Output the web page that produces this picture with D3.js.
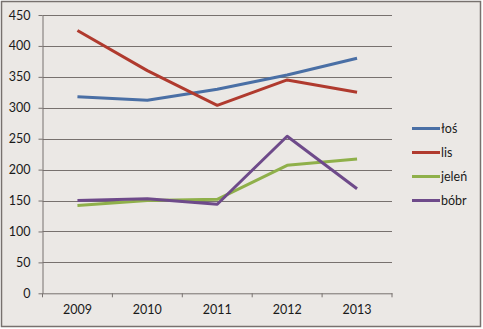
<!DOCTYPE html>
<html><head><meta charset="utf-8">
<script src="https://cdn.jsdelivr.net/npm/d3@7"></script>
<style>body{margin:0;background:#fff}svg{display:block}</style>
</head><body>
<svg id="c" width="483" height="329"></svg>
<script>
const years = ["2009","2010","2011","2012","2013"];
const seriesNames = ["łoś","lis","jeleń","bóbr"];
const seriesColors = ["#4a6fa5","#b03a2e","#8fb04a","#6e4a8a"];
const losValues = [318, 312, 330, 353, 380];
const lisValues = [425, 360, 304, 345, 325];
const jelenValues = [142, 150, 152, 207, 217];
const bobrValues = [150, 153, 144, 254, 169];
const yTicks = [0,50,100,150,200,250,300,350,400,450];

const allValues = [losValues, lisValues, jelenValues, bobrValues];
const svg = d3.select("#c");
const font = "Lato, 'Open Sans', sans-serif";

svg.append("rect").attr("x",0).attr("y",0).attr("width",483).attr("height",329).attr("fill","#fff");
svg.append("rect").attr("x",1.5).attr("y",1.5).attr("width",479).attr("height",325)
  .attr("fill","#ebe8e5").attr("stroke","#77716e").attr("stroke-width",1.5);

const L=42.5, R=392, T=15, B=293.3;
const x = d3.scaleBand().domain(years).range([L,R]);
const y = d3.scaleLinear().domain([0,450]).range([B,T]);

// gridlines
svg.append("g").selectAll("line").data(yTicks.filter(d=>d>0)).join("line")
  .attr("x1",L).attr("x2",R).attr("y1",d=>Math.round(y(d))+0.5).attr("y2",d=>Math.round(y(d))+0.5)
  .attr("stroke","#77716e").attr("stroke-width",1);

// y axis
const ya = svg.append("g").attr("transform",`translate(${L},0)`)
  .call(d3.axisLeft(y).tickValues(yTicks).tickSize(4).tickSizeOuter(0).tickPadding(8));
ya.select(".domain").attr("stroke","#77716e");
ya.selectAll(".tick line").attr("stroke","#77716e");
ya.selectAll("text").attr("font-family",font).attr("font-size",12.5).attr("fill","#1a1a1a");

// x axis
const xa = svg.append("g").attr("transform",`translate(0,${B})`)
  .call(d3.axisBottom(x).tickSize(0).tickPadding(12));
xa.select(".domain").attr("stroke","#77716e");
xa.selectAll("text").attr("font-family",font).attr("font-size",12.5).attr("fill","#1a1a1a");
// category separators ticks
const bounds = years.map(d=>x(d)).concat([R]);
xa.selectAll(".sep").data(bounds).join("line").attr("class","sep")
  .attr("x1",d=>d).attr("x2",d=>d).attr("y1",0).attr("y2",4).attr("stroke","#77716e");

const line = d3.line().x((d,i)=>x(years[i])+x.bandwidth()/2).y(d=>y(d));
svg.append("g").selectAll("path").data(allValues).join("path")
  .attr("d",d=>line(d)).attr("fill","none")
  .attr("stroke",(d,i)=>seriesColors[i]).attr("stroke-width",3).attr("stroke-linejoin","round");

// legend
const lg = svg.append("g").selectAll("g").data(seriesNames).join("g")
  .attr("transform",(d,i)=>`translate(412,${128.5+i*24})`);
lg.append("line").attr("x1",0).attr("x2",28).attr("stroke",(d,i)=>seriesColors[i]).attr("stroke-width",3);
lg.append("text").attr("x",29).attr("dy","0.35em").text(d=>d)
  .attr("font-family",font).attr("font-size",12.5).attr("fill","#1a1a1a");
</script>
</body></html>
